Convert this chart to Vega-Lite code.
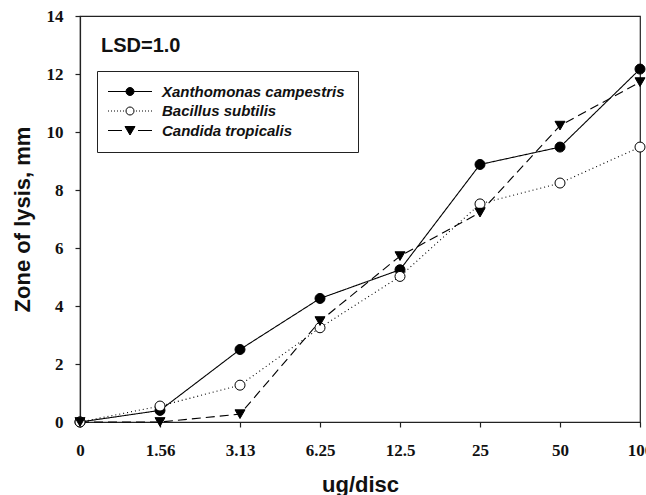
{
  "$schema": "https://vega.github.io/schema/vega-lite/v6.json",
  "width": 560,
  "height": 406,
  "autosize": {"type": "none"},
  "padding": {"left": 80, "top": 16, "right": 6, "bottom": 73},
  "background": "white",
  "title": {
    "text": "LSD=1.0",
    "anchor": "start",
    "frame": "group",
    "orient": "top",
    "baseline": "top",
    "offset": -49,
    "dx": 21,
    "font": "Liberation Sans",
    "fontWeight": "bold",
    "fontSize": 20,
    "color": "#111"
  },
  "config": {
    "view": {"stroke": "#222", "strokeWidth": 1.2},
    "axis": {
      "grid": false,
      "domainColor": "#222",
      "domainWidth": 1.2,
      "tickColor": "#222",
      "tickWidth": 1.2,
      "tickSize": 5,
      "labelFont": "Liberation Serif",
      "labelFontWeight": "bold",
      "labelFontSize": 17,
      "labelColor": "#111",
      "titleFont": "Liberation Sans",
      "titleFontWeight": "bold",
      "titleFontSize": 22,
      "titleColor": "#111"
    }
  },
  "data": {
    "values": [
      {"x": "0", "series": "Xanthomonas campestris", "v": 0},
      {"x": "1.56", "series": "Xanthomonas campestris", "v": 0.4},
      {"x": "3.13", "series": "Xanthomonas campestris", "v": 2.5},
      {"x": "6.25", "series": "Xanthomonas campestris", "v": 4.26},
      {"x": "12.5", "series": "Xanthomonas campestris", "v": 5.25},
      {"x": "25", "series": "Xanthomonas campestris", "v": 8.88},
      {"x": "50", "series": "Xanthomonas campestris", "v": 9.48},
      {"x": "100", "series": "Xanthomonas campestris", "v": 12.17},
      {"x": "0", "series": "Bacillus subtilis", "v": 0},
      {"x": "1.56", "series": "Bacillus subtilis", "v": 0.55},
      {"x": "3.13", "series": "Bacillus subtilis", "v": 1.27},
      {"x": "6.25", "series": "Bacillus subtilis", "v": 3.25},
      {"x": "12.5", "series": "Bacillus subtilis", "v": 5.02},
      {"x": "25", "series": "Bacillus subtilis", "v": 7.52},
      {"x": "50", "series": "Bacillus subtilis", "v": 8.24},
      {"x": "100", "series": "Bacillus subtilis", "v": 9.48},
      {"x": "0", "series": "Candida tropicalis", "v": 0},
      {"x": "1.56", "series": "Candida tropicalis", "v": 0},
      {"x": "3.13", "series": "Candida tropicalis", "v": 0.27},
      {"x": "6.25", "series": "Candida tropicalis", "v": 3.48},
      {"x": "12.5", "series": "Candida tropicalis", "v": 5.72},
      {"x": "25", "series": "Candida tropicalis", "v": 7.22},
      {"x": "50", "series": "Candida tropicalis", "v": 10.22},
      {"x": "100", "series": "Candida tropicalis", "v": 11.72}
    ]
  },
  "encoding": {
    "x": {
      "field": "x",
      "type": "ordinal",
      "scale": {"type": "point", "padding": 0, "domain": ["0", "1.56", "3.13", "6.25", "12.5", "25", "50", "100"]},
      "axis": {"title": "ug/disc", "labelAngle": 0, "labelPadding": 15, "titlePadding": 16}
    },
    "y": {
      "field": "v",
      "type": "quantitative",
      "scale": {"domain": [0, 14], "nice": false, "zero": true},
      "axis": {"title": "Zone of lysis, mm", "values": [0, 2, 4, 6, 8, 10, 12, 14], "labelPadding": 12, "titlePadding": 12}
    }
  },
  "layer": [
    {
      "mark": {"type": "line", "color": "black", "strokeWidth": 1.1},
      "encoding": {
        "strokeDash": {
          "field": "series",
          "type": "nominal",
          "scale": {"domain": ["Bacillus subtilis", "Candida tropicalis", "Xanthomonas campestris"], "range": [[1, 3], [9, 5], [1, 0]]},
          "legend": null
        },
        "order": {"value": null}
      }
    },
    {
      "transform": [{"filter": "datum.series === 'Xanthomonas campestris'"}],
      "mark": {"type": "point", "shape": "circle", "filled": true, "fill": "black", "stroke": "black", "strokeWidth": 1, "size": 100, "opacity": 1}
    },
    {
      "transform": [{"filter": "datum.series === 'Bacillus subtilis'"}],
      "mark": {"type": "point", "shape": "circle", "filled": true, "fill": "white", "stroke": "black", "strokeWidth": 1, "size": 100, "opacity": 1}
    },
    {
      "transform": [{"filter": "datum.series === 'Candida tropicalis'"}],
      "mark": {"type": "point", "shape": "triangle-down", "filled": true, "fill": "black", "stroke": "black", "strokeWidth": 1, "size": 100, "opacity": 1}
    },
    {
      "mark": {"type": "point", "filled": true, "size": 0, "strokeWidth": 1, "opacity": 1},
      "encoding": {
        "shape": {
          "field": "series",
          "type": "nominal",
          "scale": {
            "domain": ["Xanthomonas campestris", "Bacillus subtilis", "Candida tropicalis"],
            "range": [
              "M-4.4,0H-0.8M0.8,0H4.4M-0.8,0A0.8,0.8,0,1,1,0.8,0A0.8,0.8,0,1,1,-0.8,0Z",
              "M-4.4,0h0.2M-3.8,0h0.2M-3.2,0h0.2M-2.6,0h0.2M-2,0h0.2M-1.4,0h0.2M1.2,0h0.2M1.8,0h0.2M2.4,0h0.2M3,0h0.2M3.6,0h0.2M4.2,0h0.2M-0.8,0A0.8,0.8,0,1,1,0.8,0A0.8,0.8,0,1,1,-0.8,0Z",
              "M-4.4,0H-1.6M1.6,0H4.4M-1,-0.8H1L0,0.9Z"
            ]
          },
          "legend": {
            "title": null,
            "orient": "none",
            "legendX": 17,
            "legendY": 55,
            "padding": 13,
            "strokeColor": "#222",
            "fillColor": "white",
            "symbolSize": 100,
            "symbolStrokeWidth": 1,
            "symbolOpacity": 1,
            "rowPadding": 3.5,
            "labelFont": "Liberation Sans",
            "labelFontSize": 15,
            "labelFontWeight": "bold",
            "labelFontStyle": "italic",
            "labelColor": "#111",
            "labelOffset": 24.5,
            "symbolOffset": 12.5,
            "labelLimit": 400
          }
        },
        "fill": {
          "field": "series",
          "type": "nominal",
          "scale": {"domain": ["Xanthomonas campestris", "Bacillus subtilis", "Candida tropicalis"], "range": ["black", "white", "black"]}
        },
        "stroke": {
          "field": "series",
          "type": "nominal",
          "scale": {"domain": ["Xanthomonas campestris", "Bacillus subtilis", "Candida tropicalis"], "range": ["black", "black", "black"]}
        }
      }
    }
  ]
}
